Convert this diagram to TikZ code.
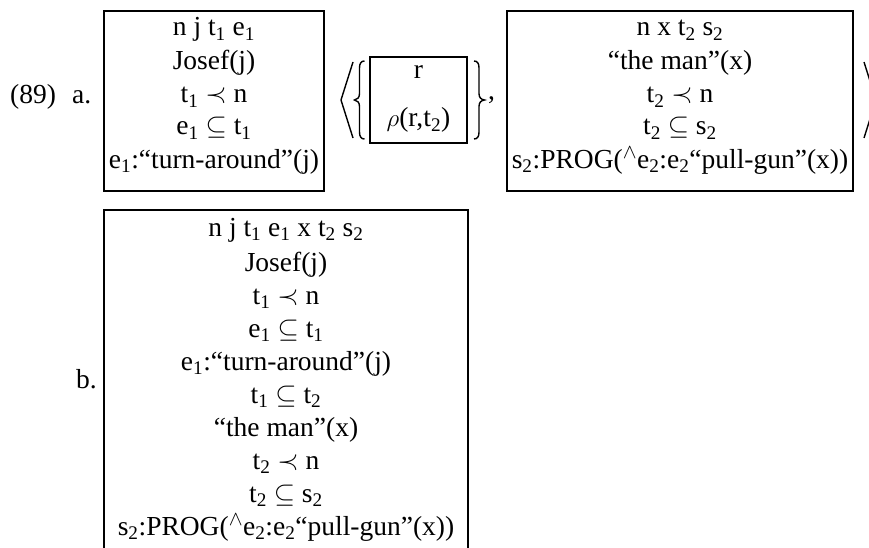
\documentclass[tikz,border=0pt]{standalone}
\usepackage{fontspec}
\setmainfont{Liberation Serif}
\newcommand\sbs[1]{\textsubscript{#1}}
\newcommand\prc{\scalebox{1.1}{$\prec$}}
\newcommand\sbq{\scalebox{1.1}{$\subseteq$}}
\begin{document}
\begin{tikzpicture}[x=1pt,y=-1pt,
  txt/.style={anchor=base, inner sep=0pt, font=\fontsize{27.5}{33}\selectfont},
  lbl/.style={anchor=base west, inner sep=0pt, font=\fontsize{27.5}{33}\selectfont},
  boxframe/.style={draw, line width=2.4pt, inner sep=0pt},
  delim/.style={line width=1.4pt}]
\useasboundingbox (0,0) rectangle (869,548);
\clip (0,0) rectangle (869,548);

% labels
\node[lbl] (num) at (10,104) {(89)};
\node[lbl] (la) at (72,104) {a.};
\node[lbl] (lb) at (76,388) {b.};

% box a
\node[boxframe, minimum width=220pt, minimum height=180pt] (boxA) at (214,101) {};
\node[txt] (a0) at (214,36) {n j t\sbs{1} e\sbs{1}};
\node[txt] (a1) at (214,70) {Josef(j)};
\node[txt] (a2) at (214,103) {t\sbs{1} \prc{} n};
\node[txt] (a3) at (214,135) {e\sbs{1} \sbq{} t\sbs{1}};
\node[txt] (a4) at (214,168) {e\sbs{1}:``turn-around''(j)};

% angle and brace
\draw[delim] (353,62) -- (341,100) -- (353,138);
\draw[delim] (364.5,61) .. controls (361,61) and (359.5,63.5) .. (359.5,68) -- (359.5,93.5)
  .. controls (359.5,97.5) and (357.5,99.5) .. (354.5,100)
  .. controls (357.5,100.5) and (359.5,102.5) .. (359.5,106.5) -- (359.5,132)
  .. controls (359.5,136.5) and (361,139) .. (364.5,139);

% box r
\node[boxframe, minimum width=97pt, minimum height=86pt] (boxR) at (418.5,100) {};
\node[txt] (r0) at (418.5,79) {r};
\node[txt] (r1) at (418.5,127) {$\rho$(r,t\sbs{2})};

% closing brace and comma
\draw[delim] (474,61) .. controls (477.5,61) and (479,63.5) .. (479,68) -- (479,93.5)
  .. controls (479,97.5) and (481,99.5) .. (484.5,100)
  .. controls (481,100.5) and (479,102.5) .. (479,106.5) -- (479,132)
  .. controls (479,136.5) and (477.5,139) .. (474,139);
\node[lbl] (comma) at (488,100) {,};

% box c
\node[boxframe, minimum width=346pt, minimum height=180pt] (boxC) at (680,101) {};
\node[txt] (c0) at (680,36) {n x t\sbs{2} s\sbs{2}};
\node[txt] (c1) at (680,70) {``the man''(x)};
\node[txt] (c2) at (680,103) {t\sbs{2} \prc{} n};
\node[txt] (c3) at (680,135) {t\sbs{2} \sbq{} s\sbs{2}};
\node[txt] (c4) at (680,168) {s\sbs{2}:PROG({}$^\wedge$e\sbs{2}:e\sbs{2}``pull-gun''(x))};

% closing angle (cut off)
\draw[delim] (864,62) -- (876,100) -- (864,138);

% box b
\node[boxframe, minimum width=364pt, minimum height=390pt] (boxB) at (286,405) {};
\node[txt] (b0) at (286,236) {n j t\sbs{1} e\sbs{1} x t\sbs{2} s\sbs{2}};
\node[txt] (b1) at (286,271) {Josef(j)};
\node[txt] (b2) at (286,304) {t\sbs{1} \prc{} n};
\node[txt] (b3) at (286,337) {e\sbs{1} \sbq{} t\sbs{1}};
\node[txt] (b4) at (286,370) {e\sbs{1}:``turn-around''(j)};
\node[txt] (b5) at (286,403) {t\sbs{1} \sbq{} t\sbs{2}};
\node[txt] (b6) at (286,436) {``the man''(x)};
\node[txt] (b7) at (286,469) {t\sbs{2} \prc{} n};
\node[txt] (b8) at (286,502) {t\sbs{2} \sbq{} s\sbs{2}};
\node[txt] (b9) at (286,535) {s\sbs{2}:PROG({}$^\wedge$e\sbs{2}:e\sbs{2}``pull-gun''(x))};
\end{tikzpicture}
\end{document}
